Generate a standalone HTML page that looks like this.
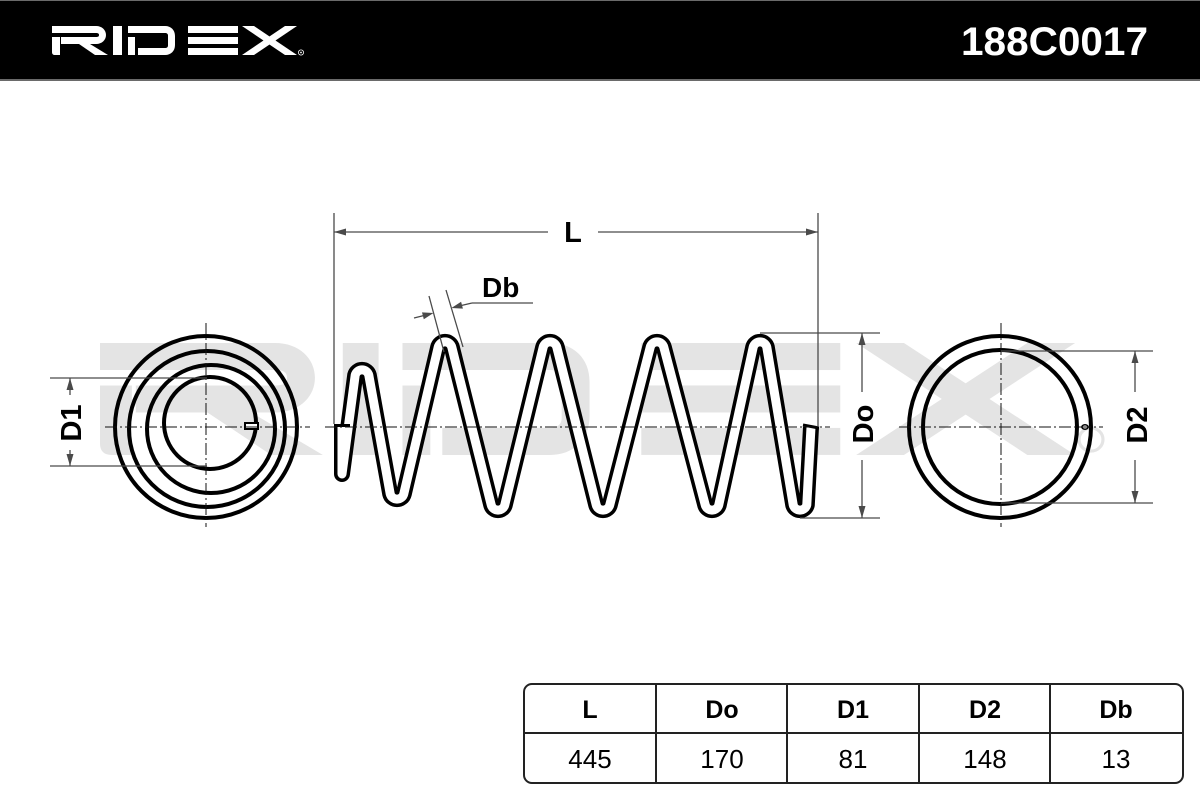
<!DOCTYPE html>
<html><head><meta charset="utf-8"><style>
html,body{margin:0;padding:0;background:#fff;}
svg{display:block;}
text{font-family:"Liberation Sans",sans-serif;}
</style></head><body>
<svg width="1200" height="800" viewBox="0 0 1200 800" xmlns="http://www.w3.org/2000/svg">
<defs>
<g id="logo">
  <path d="M0,0 H44 C50,0 54,4 54,9 C54,14 50,18 44,18 H9 V11 H44 C46,11 47,10.5 47,9 C47,7.5 46,7 44,7 H0 Z"/>
  <path d="M0,11 H8 V29 H3 C1,29 0,28 0,26 Z"/>
  <path d="M27,18 H38 L56,29 H43 Z"/>
  <path d="M61,0 H70 V29 H61 Z"/>
  <path d="M76,0 H113 C119,0 123,4 123,10 V19 C123,25 119,29 113,29 H86 V22 H113 C115,22 116,21 116,19.5 V9.5 C116,8 115,7 113,7 H76 Z"/>
  <path d="M76,11 H83 V29 H76 Z"/>
  <rect x="136" y="0" width="50" height="7"/>
  <rect x="136" y="11" width="50" height="7"/>
  <rect x="136" y="22" width="50" height="7"/>
  <path d="M190,0 H202 L245,29 H233 Z"/>
  <path d="M233,0 H245 L202,29 H190 Z"/>
</g>
<path id="coil" d="M342,424 V474 L355.2,375.2 A7 7 0 0 1 368.8,375.2 L390.2,493.8 A7 7 0 0 0 403.8,493.8 L438.2,347.2 A7 7 0 0 1 451.8,347.2 L491.2,504.8 A7 7 0 0 0 504.8,504.8 L543.2,347.2 A7 7 0 0 1 556.8,347.2 L596.2,504.8 A7 7 0 0 0 609.8,504.8 L650.2,347.2 A7 7 0 0 1 663.8,347.2 L705.2,504.8 A7 7 0 0 0 718.8,504.8 L753.2,347.2 A7 7 0 0 1 766.8,347.2 L793.2,504.8 A7 7 0 0 0 806.8,504.8 L811,427"/>
</defs>

<!-- header -->
<rect x="0" y="0" width="1200" height="81" fill="#6a6a6a"/>
<rect x="0" y="1" width="1200" height="78" fill="#000"/>
<g transform="translate(52,26)" fill="#fff">
  <use href="#logo"/>
  <circle cx="249" cy="26.5" r="2.6" fill="none" stroke="#fff" stroke-width="0.8"/>
  <circle cx="249" cy="26.5" r="0.9" fill="#fff"/>
</g>
<text x="961" y="55" font-size="40" font-weight="bold" fill="#fff" textLength="187" lengthAdjust="spacingAndGlyphs">188C0017</text>

<!-- watermark -->
<g transform="translate(100,343) scale(3.98,3.86)" fill="#e4e4e4">
  <use href="#logo"/>
  <circle cx="249" cy="25" r="3" fill="none" stroke="#e4e4e4" stroke-width="0.8"/>
</g>

<!-- left spiral -->
<g fill="none" stroke="#000" stroke-width="4">
  <circle cx="206" cy="427" r="91"/>
  <circle cx="207" cy="429" r="78"/>
  <circle cx="211" cy="429" r="64"/>
  <circle cx="210" cy="423" r="46"/>
</g>
<rect x="245" y="423" width="13" height="6" fill="#fff" stroke="#000" stroke-width="2"/>

<!-- right ring -->
<g fill="none" stroke="#000" stroke-width="4">
  <circle cx="1000" cy="427" r="91"/>
  <circle cx="1000" cy="427" r="77"/>
</g>
<ellipse cx="1085" cy="427" rx="3.2" ry="2.2" fill="#fff" stroke="#000" stroke-width="1.5"/>

<!-- center lines -->
<g stroke="#111" stroke-width="1" stroke-dasharray="12 3 2 3" fill="none">
  <line x1="105" y1="427" x2="310" y2="427"/>
  <line x1="206" y1="323" x2="206" y2="527"/>
  <line x1="899" y1="427" x2="1103" y2="427"/>
  <line x1="1001" y1="323" x2="1001" y2="527"/>
</g>

<!-- spring -->
<use href="#coil" fill="none" stroke="#000" stroke-width="16" stroke-linejoin="round" stroke-linecap="butt"/>
<use href="#coil" fill="none" stroke="#fff" stroke-width="9" stroke-linejoin="round" stroke-linecap="butt"/>
<line x1="334" y1="425.5" x2="350" y2="425.5" stroke="#000" stroke-width="3"/>
<line x1="803" y1="425" x2="819" y2="428" stroke="#000" stroke-width="3"/>

<!-- spring center line -->
<line x1="325" y1="427" x2="830" y2="427" stroke="#111" stroke-width="1" stroke-dasharray="12 3 2 3"/>

<!-- dimension lines -->
<g stroke="#4a4a4a" stroke-width="1.3" fill="none">
  <line x1="334" y1="213" x2="334" y2="424"/>
  <line x1="818" y1="213" x2="818" y2="426"/>
  <line x1="334" y1="232" x2="548" y2="232"/>
  <line x1="598" y1="232" x2="818" y2="232"/>
  <line x1="429" y1="296" x2="444" y2="352"/>
  <line x1="446" y1="290" x2="463" y2="347"/>
  <line x1="414" y1="318" x2="428" y2="314.5"/>
  <line x1="456" y1="306.8" x2="472" y2="303"/>
  <line x1="472" y1="303" x2="533" y2="303"/>
  <line x1="50" y1="378" x2="207" y2="378"/>
  <line x1="50" y1="466" x2="207" y2="466"/>
  <line x1="70" y1="378" x2="70" y2="395"/>
  <line x1="70" y1="450" x2="70" y2="466"/>
  <line x1="760" y1="333" x2="880" y2="333"/>
  <line x1="800" y1="518" x2="880" y2="518"/>
  <line x1="862" y1="333" x2="862" y2="392"/>
  <line x1="862" y1="460" x2="862" y2="518"/>
  <line x1="1001" y1="351" x2="1153" y2="351"/>
  <line x1="1001" y1="503" x2="1153" y2="503"/>
  <line x1="1135" y1="351" x2="1135" y2="392"/>
  <line x1="1135" y1="460" x2="1135" y2="503"/>
</g>
<g fill="#4a4a4a">
  <polygon points="334,232 346,228.5 346,235.5"/>
  <polygon points="818,232 806,228.5 806,235.5"/>
  <polygon points="433.5,313 423.8,319.2 422,312.4"/>
  <polygon points="451.4,308 462.9,308.6 461.1,301.8"/>
  <polygon points="70,378 66.5,390 73.5,390"/>
  <polygon points="70,466 66.5,454 73.5,454"/>
  <polygon points="862,333 858.5,345 865.5,345"/>
  <polygon points="862,518 858.5,506 865.5,506"/>
  <polygon points="1135,351 1131.5,363 1138.5,363"/>
  <polygon points="1135,503 1131.5,491 1138.5,491"/>
</g>

<!-- labels -->
<g font-weight="bold" fill="#000" font-size="29">
  <text x="573" y="242" text-anchor="middle">L</text>
  <text x="482" y="297" font-size="28">Db</text>
  <text transform="translate(81,423) rotate(-90)" text-anchor="middle">D1</text>
  <text transform="translate(873,424) rotate(-90)" text-anchor="middle">Do</text>
  <text transform="translate(1147,425) rotate(-90)" text-anchor="middle">D2</text>
</g>

<!-- table -->
<g fill="none" stroke="#222" stroke-width="2">
  <rect x="524" y="684" width="659" height="99" rx="8" ry="8"/>
  <line x1="524" y1="733" x2="1183" y2="733"/>
  <line x1="656" y1="684" x2="656" y2="783"/>
  <line x1="787" y1="684" x2="787" y2="783"/>
  <line x1="919" y1="684" x2="919" y2="783"/>
  <line x1="1050" y1="684" x2="1050" y2="783"/>
</g>
<g font-weight="bold" font-size="25" fill="#000" text-anchor="middle">
  <text x="590" y="718">L</text>
  <text x="722" y="718">Do</text>
  <text x="853" y="718">D1</text>
  <text x="985" y="718">D2</text>
  <text x="1116" y="718">Db</text>
</g>
<g font-size="26" fill="#000" text-anchor="middle">
  <text x="590" y="768">445</text>
  <text x="722" y="768">170</text>
  <text x="853" y="768">81</text>
  <text x="985" y="768">148</text>
  <text x="1116" y="768">13</text>
</g>
</svg>
</body></html>
